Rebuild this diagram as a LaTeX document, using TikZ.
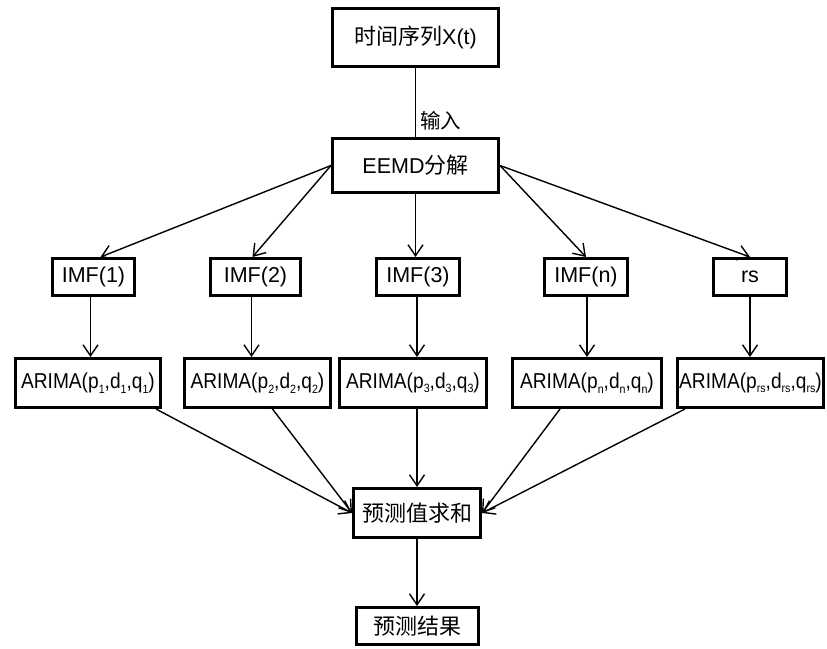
\documentclass[tikz,border=0pt]{standalone}
\usepackage{fontspec}
\setmainfont{Liberation Sans}
\newfontfamily\cjk{Noto Sans CJK SC}
\usetikzlibrary{arrows.meta,calc}
\newcommand\subx[1]{\raisebox{-4.5pt}{\fontsize{12}{12}\selectfont #1}}
\newcommand\arima[3]{\scalebox{0.89}[1]{ARIMA(p\subx{#1},d\subx{#2},q\subx{#3})}}
\begin{document}
\begin{tikzpicture}[x=1pt,y=-1pt,
  box/.style={draw, line width=3pt, inner sep=0pt, align=center, font=\fontsize{21.5}{25}\selectfont},
  arbox/.style={box},
  arr/.style={line width=1.4pt, -{Straight Barb[length=11pt,width=15pt,line width=1.4pt]}},
  plain/.style={line width=1.4pt}]
\useasboundingbox (0,0) rectangle (827,648);
\node[box, minimum width=166pt, minimum height=58pt] (x) at (415.5,37.5) {{\cjk\fontsize{22}{25}\selectfont 时间序列}X(t)};
\node[box, minimum width=166pt, minimum height=54pt] (eemd) at (415.5,165.5) {EEMD{\cjk\fontsize{22}{25}\selectfont 分解}};
\node[box, minimum width=82pt, minimum height=37pt] (imf1) at (93.5,277) {IMF(1)};
\node[box, minimum width=90pt, minimum height=37pt] (imf2) at (255.5,277) {IMF(2)};
\node[box, minimum width=83pt, minimum height=37pt] (imf3) at (418,277) {IMF(3)};
\node[box, minimum width=83pt, minimum height=37pt] (imfn) at (586,277) {IMF(n)};
\node[box, minimum width=73pt, minimum height=37pt] (rs) at (750,277) {rs};
\node[arbox, minimum width=145pt, minimum height=49pt] (a1) at (88,383) {\arima{1}{1}{1}};
\node[arbox, minimum width=146pt, minimum height=49pt] (a2) at (257.5,383) {\arima{2}{2}{2}};
\node[arbox, minimum width=147pt, minimum height=49pt] (a3) at (413,383) {\arima{3}{3}{3}};
\node[arbox, minimum width=149pt, minimum height=49pt] (an) at (587,383) {\arima{n}{n}{n}};
\node[arbox, minimum width=146pt, minimum height=49pt] (ars) at (750.5,383) {\arima{rs}{rs}{rs}};
\node[box, minimum width=127pt, minimum height=49pt, font=\fontsize{22}{25}\selectfont\cjk] (sum) at (417,513) {预测值求和};
\node[box, minimum width=122pt, minimum height=37pt, font=\fontsize{22}{25}\selectfont\cjk] (res) at (417.5,626) {预测结果};
% connectors
\draw[plain] (x.south) -- node[right, pos=0.77, inner sep=4pt, font=\fontsize{20.5}{24}\selectfont\cjk] {输入} (eemd.north);
\draw[arr] (eemd.west) -- ([xshift=7pt]imf1.north);
\draw[arr] (eemd.west) -- ([xshift=-3pt]imf2.north);
\draw[arr] (eemd.south) -- (eemd.south |- imf3.north);
\draw[arr] (eemd.east) -- (imfn.north);
\draw[arr] (eemd.east) -- (rs.north);
\draw[arr] ([xshift=-3pt]imf1.south) -- ([xshift=-3pt]imf1.south |- a1.north);
\draw[arr] ([xshift=-4pt]imf2.south) -- ([xshift=-4pt]imf2.south |- a2.north);
\draw[arr] ([xshift=-1pt]imf3.south) -- ([xshift=-1pt]imf3.south |- a3.north);
\draw[arr] ([xshift=1pt]imfn.south) -- ([xshift=1pt]imfn.south |- an.north);
\draw[arr] (rs.south) -- (rs.south |- ars.north);
\draw[arr] ([xshift=-6pt]a1.south east) -- (sum.west);
\draw[arr] ([xshift=15pt]a2.south) -- (sum.west);
\draw[arr] (sum.north |- a3.south) -- (sum.north);
\draw[arr] ([xshift=-27pt]an.south) -- (sum.east);
\draw[arr] ([xshift=9pt]ars.south west) -- (sum.east);
\draw[arr] (sum.south) -- (sum.south |- res.north);
\end{tikzpicture}
\end{document}
